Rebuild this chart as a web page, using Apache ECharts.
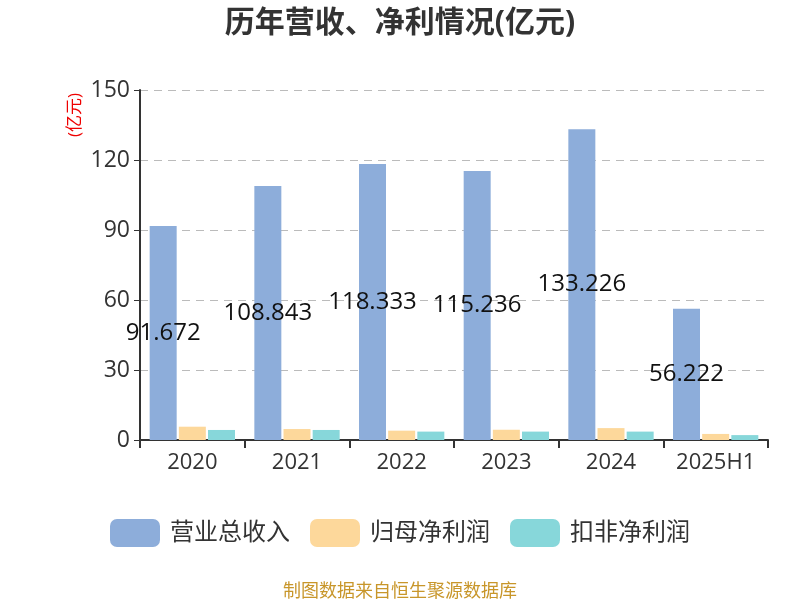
<!DOCTYPE html>
<html><head><meta charset="utf-8">
<script src="https://cdn.jsdelivr.net/npm/echarts@6/dist/echarts.min.js"></script>
<style>html,body{margin:0;padding:0;background:#fff}#c{width:800px;height:600px}</style>
</head><body><div id="c"></div>
<script>
const categories = ['2020','2021','2022','2023','2024','2025H1'];
const revenue = [91.672, 108.843, 118.333, 115.236, 133.226, 56.222];
const netProfit = [5.7, 4.7, 4.0, 4.4, 5.1, 2.6];
const deductedProfit = [4.3, 4.3, 3.6, 3.6, 3.6, 2.1];
const yTicks = {min: 0, max: 150, interval: 30};
const seriesNames = ['营业总收入','归母净利润','扣非净利润'];

const chart = echarts.init(document.getElementById('c'));
const font = '"Open Sans", "Noto Sans CJK SC", sans-serif';
chart.setOption({
  animation: false,
  textStyle: {fontFamily: font},
  title: {text: '历年营收、净利情况(亿元)', left: 'center', top: 3,
    textStyle: {fontSize: 30, fontWeight: 'bold', color: '#333', fontFamily: font}},
  legend: {bottom: 48, left: 'center', itemWidth: 50, itemHeight: 28, itemGap: 20,
    icon: 'roundRect', textStyle: {fontSize: 24, color: '#333', fontFamily: font, padding: [0, 0, 0, 5]},
    data: seriesNames},
  grid: {left: 140, right: 32, top: 90, bottom: 160},
  xAxis: {type: 'category', data: categories,
    axisLine: {lineStyle: {color: '#333', width: 2}},
    axisTick: {show: true, interval: 0, length: 8, lineStyle: {color: '#333', width: 2}},
    axisLabel: {fontSize: 22, color: '#333', margin: 12, interval: 0}},
  yAxis: {type: 'value', min: yTicks.min, max: yTicks.max, interval: yTicks.interval,
    axisLine: {show: true, lineStyle: {color: '#333', width: 2}},
    axisTick: {show: true, length: 6, lineStyle: {color: '#333'}},
    axisLabel: {fontSize: 23, color: '#333', margin: 10},
    splitLine: {lineStyle: {type: [8, 6], color: '#bbb'}}},
  graphic: [{type: 'text', left: 67, top: 93, rotation: Math.PI / 2,
    style: {text: '(亿元)', fill: '#e00', fontSize: 17, fontFamily: font}}],
  series: [
    {name: seriesNames[0], type: 'bar', data: revenue, barWidth: 27, barGap: '8%',
      itemStyle: {color: '#8DADDA'},
      label: {show: true, position: 'inside', color: '#111', fontSize: 24, fontFamily: font}},
    {name: seriesNames[1], type: 'bar', data: netProfit, barWidth: 27, barGap: '8%',
      itemStyle: {color: '#FDD89B'}},
    {name: seriesNames[2], type: 'bar', data: deductedProfit, barWidth: 27, barGap: '8%',
      itemStyle: {color: '#87D7DA'}}
  ]
});
</script>
<div style="position:absolute;left:0;top:577px;width:800px;text-align:center;font-family:'Noto Sans CJK SC';font-size:18px;line-height:24px;color:#C8962A">制图数据来自恒生聚源数据库</div>
</body></html>
